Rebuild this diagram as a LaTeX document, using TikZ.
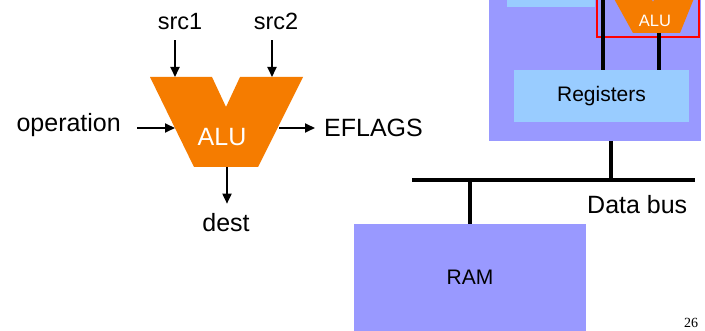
\documentclass[tikz,border=0pt]{standalone}
\usepackage{fontspec}
\setmainfont{Liberation Sans}
\newfontfamily\pagefont{Liberation Serif}
\usepackage{xcolor}
\usepackage{tikz}
\usetikzlibrary{positioning, arrows.meta, calc}
\definecolor{aluorange}{RGB}{245,124,0}
\definecolor{cpupurple}{RGB}{153,153,255}
\definecolor{reglight}{RGB}{153,204,255}
\tikzset{
  lbl/.style={font=\fontsize{25}{30}\selectfont, inner sep=0pt},
  srclbl/.style={lbl, font=\fontsize{23.5}{28}\selectfont, anchor=base, inner ysep=10pt},
  blk/.style={align=center, inner sep=0pt, font=\fontsize{21}{25}\selectfont},
  ram/.style={blk, fill=cpupurple, minimum width=232pt, minimum height=107pt},
  reg/.style={blk, fill=reglight, minimum width=175pt, minimum height=52pt},
  cpubox/.style={fill=cpupurple, inner sep=0pt, anchor=south west},
  alubody/.style={fill=aluorange},
  alutext/.style={text=white, inner sep=0pt},
  arr/.style={-{Triangle[length=10pt, width=9pt]}, line width=1.8pt},
  wire/.style={line width=3.5pt},
}

\begin{document}
\begin{tikzpicture}[x=1pt, y=-1pt]
\clip (0,0) rectangle (705,331);
\fill[white] (0,0) rectangle (705,331);

\fill[alubody] (150,77) -- (212,77) -- (226,107) -- (240,77) -- (303,77) -- (258,167) -- (194,167) -- cycle;
\node[alutext, font=\fontsize{25}{30}\selectfont] (alu) at (222,137) {ALU};
\coordinate (in1) at (175,77);
\coordinate (in2) at (272,77);
\coordinate (opin) at (175,128);
\coordinate (flagout) at (279,128);
\coordinate (destout) at (227,167);

\node[srclbl] (src1) at (180,30) {src1};
\node[srclbl] (src2) at (276,30) {src2};
\node[lbl, anchor=base east, inner xsep=16pt] (op) at (137,132) {operation};
\node[lbl, anchor=base west, inner xsep=9pt] (flags) at (315,137) {EFLAGS};
\node[lbl, anchor=base, inner ysep=10pt] (dest) at (226,232) {dest};
\draw[arr] (src1.south -| in1) -- (in1);
\draw[arr] (src2.south -| in2) -- (in2);
\draw[arr] (op.east |- opin) -- (opin);
\draw[arr] (flagout) -- (flags.west |- flagout);
\draw[arr] (destout) -- (dest.north -| destout);

\node[cpubox, minimum width=212pt, minimum height=200pt] (cpu) at (489,141) {};
\node[cpubox, fill=reglight, minimum width=88pt, minimum height=50pt] (ctl) at (507,7) {};
\node[draw=red, line width=2pt, inner sep=0pt, minimum width=102pt, minimum height=70pt, anchor=south west] (alubox) at (596,38) {};
\fill[alubody] (607,-14) -- (646,-14) -- (653,2) -- (660,-14) -- (699,-14) -- (680,33) -- (633,33) -- cycle;
\node[alutext, font=\fontsize{16.5}{20}\selectfont] (alusm) at (655,21) {ALU};
\node[reg] (regs) at (601.5,96) {Registers};
\coordinate (aluL) at (603,-20);
\coordinate (aluR) at (659,33);
\draw[wire] (aluL) -- (aluL |- regs.north);
\draw[wire] (aluR) -- (aluR |- regs.north);

\coordinate (busL) at (412,180);
\coordinate (busR) at (695,180);
\coordinate (cpuport) at ($(cpu.south)+(16,0)$);
\draw[wire] (busL) -- (busR);
\draw[wire] (cpuport) -- (cpuport |- busL);
\node[ram] (ram) at (470,277.5) {RAM};
\draw[wire] (ram.north) -- (ram.north |- busL);
\node[lbl, anchor=base west] (bus) at (587,214) {Data bus};
\node[font=\pagefont\fontsize{14}{16}\selectfont, anchor=base] (pageno) at (691,328) {26};
\end{tikzpicture}
\end{document}
